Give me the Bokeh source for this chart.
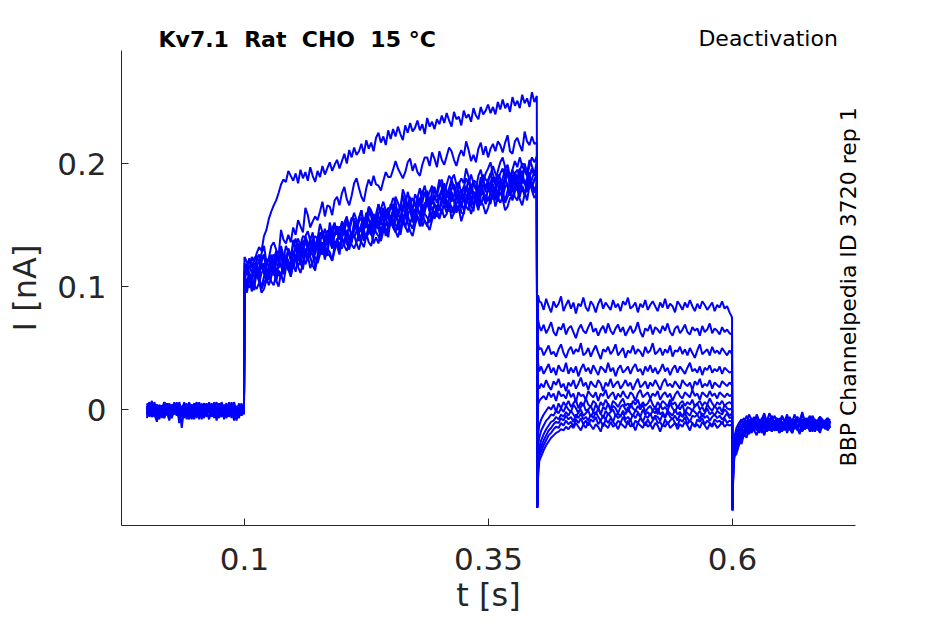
import numpy as np
from bokeh.plotting import figure
from bokeh.models import Range1d, FixedTicker, Label
from bokeh.embed import file_html
from bokeh.resources import INLINE

# ---------------- data ----------------
T_START = 0.0
T_ON = 0.1
T_DEACT = 0.4
T_OFF = 0.6
T_END = 0.7

X_TICKS = [0.1, 0.35, 0.6]
X_TICK_LABELS = ["0.1", "0.35", "0.6"]
Y_TICKS = [0, 0.1, 0.2]
Y_TICK_LABELS = ["0", "0.1", "0.2"]

TITLE = "Kv7.1 \u00a0Rat \u00a0CHO \u00a015 \u00b0C"
PROTOCOL = "Deactivation"
SOURCE = "BBP Channelpedia ID 3720 rep 1"

# currents in pA, one row per sweep, sampled every 2.5 ms
BASELINE_PA = [
    [2, -4, 5, -1, -7, 3, -2, 6, 0, -5, 4, -3, 1, -8, 3, -1, 5, -4, 2, -6, 0, 4, -2, -7, 3, 1, -5, 6, -3, 0, -6, 2, 5, -4, 1, -9, 3, -2, 4, -1],
    [-3, 4, -6, 1, 3, -5, 0, 6, -2, -8, 2, 5, -4, 1, -1, 4, -7, 2, -3, 5, -1, -6, 3, 0, -4, 6, -2, 1, -9, 3, 5, -3, 0, -5, 4, -1, 2, -6, 3, 1],
    [5, -1, -6, 2, 4, -3, 1, -7, 3, 0, -4, 6, -2, 2, -5, 4, -1, -8, 3, 1, -3, 5, -6, 0, 4, -2, -5, 3, 1, -4, 6, -1, -7, 2, 0, 4, -3, 1, -5, 2],
    [-5, 2, 4, -3, -10, 1, 3, -2, 5, -6, 0, 3, -4, 6, -1, -7, 2, -3, 4, 0, -5, 3, -8, 1, 5, -2, -4, 2, 6, -3, -1, 4, -6, 0, 3, -2, -9, 2, -1, 3],
    [0, 6, -3, 2, -5, 4, -1, -7, 3, 1, -4, 5, -2, 0, -6, 3, -8, 2, 4, -1, -3, 6, -5, 1, -2, 4, 0, -6, 3, -3, 5, -1, -4, 2, -7, 3, 1, -2, 5, -4],
    [3, -6, 1, 4, -2, -8, 2, 0, 5, -4, 1, -3, 6, -11, 2, -1, 4, -5, 0, 3, -7, 2, -2, 5, -3, 1, -6, 4, -1, -4, 3, 0, -5, 6, -2, 1, -8, 3, -1, 2],
    [-2, 1, 7, -4, 0, -6, 3, -1, 5, -3, -7, 2, 0, 4, -5, 1, -2, 6, -4, -1, 3, -8, 2, 5, -3, 0, -5, 4, -1, 2, -6, 3, 1, -4, 6, -2, -7, 1, 4, -3],
    [1, -3, -5, 4, -1, 2, -6, 3, 0, -9, 4, -2, 5, -3, 1, -5, 3, -1, -7, 2, 6, -4, 0, 3, -6, 1, -2, 5, -3, -1, 4, -8, 2, 0, -4, 3, -2, 5, -5, 1],
    [-7, 2, -1, 4, -4, 1, 3, -6, 0, 5, -3, 2, -5, 1, -2, 6, -4, 0, -8, 3, 1, -2, 4, -6, 2, -1, 5, -3, 0, -7, 3, 1, -4, 4, -2, 0, -5, 3, -1, 2],
    [3, -2, -5, 6, -1, 1, -7, 3, -3, 0, 4, -4, 2, -6, 1, 5, -2, -5, 3, 0, -3, 4, -6, 2, -1, -8, 3, 1, -4, 5, -2, 0, -6, 4, 1, -3, 2, -5, 3, -1],
    [-4, 5, -1, -6, 2, 0, -3, 6, -5, 1, 3, -4, -1, 4, -15, 2, -2, 5, -3, 1, -6, 3, 0, -4, 4, -2, 2, -7, 1, 5, -3, -1, 3, -6, 2, 0, -5, 4, -2, 1],
    [0, -5, 3, -2, 4, -6, 1, -3, 5, -1, -7, 2, -4, 3, 0, -5, 4, -2, 1, -8, 3, -1, 5, -4, 0, 2, -6, 3, -2, -4, 4, 1, -5, 2, -3, 6, -1, -7, 3, 0],
]

ACTIVATION_PA = [
    [124, 120, 110, 105, 113, 122, 126, 118, 111, 107, 117, 124, 119, 127, 120, 118, 114, 122, 129, 125,
     126, 132, 139, 133, 129, 126, 131, 139, 142, 132, 140, 133, 130, 139, 145, 146, 139, 150, 145, 138,
     153, 146, 142, 149, 156, 155, 148, 143, 151, 156, 152, 164, 157, 148, 153, 148, 159, 164, 154, 161,
     154, 161, 165, 159, 167, 165, 159, 167, 173, 160, 159, 169, 172, 166, 161, 178, 170, 167, 174, 168,
     175, 169, 181, 176, 171, 186, 180, 170, 175, 179, 172, 179, 187, 175, 184, 179, 172, 184, 187, 180,
     187, 192, 182, 177, 185, 192, 196, 188, 181, 177, 186, 193, 188, 196, 189, 185, 181, 189, 196, 192, 195],
    [110, 116, 123, 117, 113, 110, 115, 123, 126, 116, 123, 116, 113, 122, 128, 129, 122, 133, 128, 121,
     138, 131, 127, 134, 141, 140, 133, 128, 136, 141, 139, 151, 144, 135, 140, 136, 147, 152, 142, 149,
     142, 149, 153, 147, 155, 154, 148, 156, 162, 149, 148, 158, 161, 155, 150, 167, 159, 156, 163, 157,
     167, 161, 173, 168, 163, 179, 173, 163, 168, 172, 165, 172, 180, 168, 177, 173, 166, 178, 181, 174,
     182, 187, 177, 172, 180, 187, 191, 183, 176, 172, 181, 188, 183, 191, 184, 180, 176, 184, 191, 187,
     185, 191, 198, 192, 188, 183, 188, 196, 199, 189, 195, 188, 185, 194, 200, 199, 192, 203, 198, 191, 202],
    [110, 103, 99, 106, 113, 112, 105, 100, 108, 113, 110, 122, 115, 106, 111, 107, 118, 123, 113, 120,
     115, 122, 126, 120, 128, 127, 121, 129, 135, 122, 123, 133, 136, 130, 125, 143, 135, 132, 139, 133,
     140, 134, 146, 141, 136, 153, 147, 137, 142, 146, 139, 146, 154, 142, 151, 147, 140, 152, 155, 148,
     156, 161, 151, 146, 154, 162, 166, 158, 151, 147, 156, 163, 158, 166, 159, 156, 152, 160, 167, 163,
     162, 168, 175, 169, 165, 160, 165, 173, 176, 166, 172, 165, 162, 171, 177, 176, 169, 180, 175, 168,
     182, 175, 171, 178, 185, 182, 175, 170, 178, 183, 179, 191, 184, 175, 180, 174, 185, 190, 180, 187, 187],
    [110, 117, 121, 115, 123, 125, 119, 127, 133, 120, 123, 133, 136, 130, 125, 146, 138, 135, 142, 136,
     148, 142, 154, 149, 144, 164, 158, 148, 153, 157, 154, 161, 169, 157, 166, 165, 158, 170, 173, 166,
     176, 181, 171, 166, 174, 184, 188, 180, 173, 169, 180, 187, 182, 190, 183, 182, 178, 186, 193, 189,
     189, 195, 202, 196, 192, 188, 193, 201, 204, 194, 200, 193, 190, 199, 205, 205, 198, 209, 204, 197,
     210, 203, 199, 206, 213, 210, 203, 198, 206, 211, 206, 218, 211, 202, 207, 201, 212, 217, 207, 214,
     205, 212, 216, 210, 218, 215, 209, 217, 223, 210, 208, 218, 221, 215, 210, 226, 218, 215, 222, 216, 217],
    [101, 95, 107, 102, 97, 114, 108, 98, 103, 107, 101, 108, 116, 104, 113, 110, 103, 115, 118, 111,
     121, 126, 116, 111, 119, 128, 132, 124, 117, 113, 124, 131, 126, 134, 127, 125, 121, 129, 136, 132,
     131, 137, 144, 138, 134, 131, 136, 144, 147, 137, 143, 136, 133, 142, 148, 148, 141, 152, 147, 140,
     155, 148, 144, 151, 158, 156, 149, 144, 152, 157, 153, 165, 158, 149, 154, 149, 160, 165, 155, 162,
     155, 162, 166, 160, 168, 165, 159, 167, 173, 160, 159, 169, 172, 166, 161, 177, 169, 166, 173, 167,
     173, 167, 179, 174, 169, 184, 178, 168, 173, 177, 170, 177, 185, 173, 182, 177, 170, 182, 185, 178, 183],
    [119, 113, 106, 109, 117, 107, 112, 118, 115, 105, 113, 126, 120, 112, 118, 127, 119, 125, 121, 114,
     128, 122, 134, 129, 124, 141, 135, 125, 130, 134, 129, 136, 144, 132, 141, 138, 131, 143, 146, 139,
     140, 146, 153, 147, 143, 140, 145, 153, 156, 146, 152, 145, 142, 151, 157, 157, 150, 161, 156, 149,
     156, 162, 155, 158, 166, 155, 160, 166, 163, 153, 160, 173, 167, 159, 165, 173, 165, 171, 167, 160,
     174, 179, 169, 164, 172, 179, 183, 175, 168, 164, 173, 180, 175, 183, 176, 172, 168, 176, 183, 179,
     185, 178, 188, 183, 172, 182, 177, 186, 193, 181, 191, 186, 178, 183, 190, 197, 190, 183, 187, 194, 189],
    [98, 104, 111, 105, 101, 98, 103, 111, 114, 104, 111, 104, 101, 110, 116, 117, 110, 121, 116, 109,
     118, 124, 117, 120, 128, 118, 123, 129, 126, 116, 125, 138, 132, 124, 130, 139, 131, 137, 133, 126,
     140, 145, 135, 130, 138, 147, 151, 143, 136, 132, 141, 148, 143, 151, 144, 141, 137, 145, 152, 148,
     155, 148, 158, 153, 142, 153, 148, 157, 164, 152, 162, 157, 149, 154, 161, 169, 162, 155, 159, 166,
     165, 159, 171, 166, 161, 176, 170, 160, 165, 169, 162, 169, 177, 165, 174, 169, 162, 174, 177, 170,
     170, 176, 183, 177, 173, 168, 173, 181, 184, 174, 180, 173, 170, 179, 185, 184, 177, 188, 183, 176, 180],
    [112, 118, 114, 124, 120, 127, 132, 129, 141, 146, 155, 161, 166, 170, 176, 183, 187, 185, 194, 190,
     186, 192, 184, 195, 188, 193, 186, 197, 190, 185, 194, 189, 198, 191, 196, 201, 194, 199, 203, 196,
     202, 208, 200, 211, 205, 213, 207, 210, 216, 208, 219, 212, 217, 210, 221, 225, 217, 222, 215, 227,
     220, 228, 222, 230, 224, 219, 231, 225, 233, 226, 229, 235, 227, 232, 224, 237, 230, 234, 228, 236,
     232, 239, 233, 241, 235, 230, 242, 236, 238, 231, 243, 237, 240, 234, 245, 239, 236, 246, 240, 243,
     248, 241, 246, 240, 250, 244, 252, 245, 249, 242, 254, 247, 251, 245, 256, 249, 253, 246, 258, 250, 255],
    [106, 113, 117, 111, 119, 118, 112, 120, 126, 113, 113, 123, 126, 120, 115, 133, 125, 122, 129, 123,
     134, 139, 129, 124, 132, 141, 145, 137, 130, 126, 137, 144, 139, 147, 140, 138, 134, 142, 149, 145,
     152, 145, 155, 150, 139, 151, 146, 155, 162, 150, 160, 155, 147, 152, 159, 167, 160, 153, 157, 164,
     163, 167, 160, 152, 156, 165, 172, 164, 169, 162, 159, 163, 170, 178, 174, 172, 164, 169, 179, 174,
     171, 177, 184, 178, 174, 169, 174, 182, 185, 175, 181, 174, 171, 180, 186, 185, 178, 189, 184, 177,
     178, 185, 189, 183, 191, 188, 182, 190, 196, 183, 182, 192, 195, 189, 184, 200, 192, 189, 196, 190, 193],
    [106, 113, 110, 98, 105, 116, 107, 119, 111, 104, 118, 114, 109, 119, 125, 116, 121, 126, 114, 120,
     129, 122, 132, 127, 116, 128, 123, 132, 139, 127, 139, 134, 126, 131, 138, 147, 140, 133, 137, 144,
     143, 147, 140, 132, 136, 146, 153, 145, 150, 143, 140, 144, 151, 159, 155, 153, 145, 150, 160, 155,
     152, 158, 165, 159, 155, 151, 156, 164, 167, 157, 163, 156, 153, 162, 168, 168, 161, 172, 167, 160,
     164, 171, 176, 165, 172, 177, 171, 162, 165, 172, 172, 182, 179, 171, 166, 175, 179, 185, 178, 172,
     178, 185, 182, 170, 177, 186, 177, 189, 181, 174, 187, 183, 178, 188, 194, 183, 188, 193, 181, 187, 191],
    [112, 116, 109, 101, 105, 115, 122, 114, 119, 112, 110, 114, 121, 129, 125, 124, 116, 121, 131, 126,
     124, 131, 135, 129, 137, 136, 130, 138, 144, 131, 132, 142, 145, 139, 134, 152, 144, 141, 148, 142,
     145, 152, 157, 146, 153, 160, 154, 145, 148, 155, 155, 165, 162, 154, 149, 159, 163, 169, 162, 156,
     165, 172, 169, 157, 164, 174, 165, 177, 169, 162, 175, 171, 166, 176, 182, 172, 177, 182, 170, 176,
     187, 180, 176, 183, 190, 187, 180, 175, 183, 188, 184, 196, 189, 180, 185, 179, 190, 195, 185, 192,
     196, 201, 191, 186, 194, 201, 205, 197, 190, 186, 195, 202, 197, 205, 198, 194, 190, 198, 205, 201, 206],
    [95, 102, 107, 96, 103, 110, 104, 95, 98, 105, 106, 116, 113, 105, 100, 111, 115, 121, 114, 108,
     118, 112, 124, 119, 114, 131, 125, 115, 120, 124, 119, 126, 134, 122, 131, 128, 121, 133, 136, 129,
     140, 133, 129, 136, 143, 142, 135, 130, 138, 143, 139, 151, 144, 135, 140, 135, 146, 151, 141, 148,
     150, 155, 145, 140, 148, 156, 160, 152, 145, 141, 150, 157, 152, 160, 153, 150, 146, 154, 161, 157,
     157, 163, 156, 159, 167, 155, 160, 166, 163, 153, 160, 173, 167, 159, 165, 172, 164, 170, 166, 159,
     164, 171, 176, 165, 172, 177, 171, 162, 165, 172, 172, 182, 179, 171, 166, 175, 179, 185, 178, 172, 175],
]

# first three samples at 0, 0.8 and 2 ms after the step, then every 2.5 ms
DEACTIVATION_PA = [
    [-74, 93, 88,
     87, 81, 90, 84, 79, 88, 83, 86, 92, 80, 85, 89, 82, 87, 78, 86, 84, 91, 83, 80, 88, 85, 79, 86, 90, 82,
     87, 84, 81, 89, 83, 86, 80, 88, 85, 91, 82, 84, 87, 79, 86, 83, 89, 81, 85, 88, 84, 80, 87, 83, 90, 82,
     86, 84, 79, 88, 85, 81, 87, 83, 89, 84, 80, 86, 82, 88, 85, 81, 84, 87, 80, 85, 83, 88, 82, 84, 79, 75],
    [-76, 73, 68,
     64, 69, 62, 66, 71, 63, 60, 67, 65, 70, 61, 66, 68, 63, 58, 65, 69, 64, 62, 67, 71, 63, 66, 60, 65, 68,
     62, 70, 64, 61, 66, 69, 63, 67, 60, 64, 68, 62, 65, 71, 63, 59, 66, 64, 69, 61, 67, 65, 62, 68, 64, 70,
     63, 60, 66, 68, 62, 65, 69, 63, 61, 67, 64, 66, 60, 68, 63, 65, 70, 62, 66, 64, 61, 67, 63, 65, 62, 61],
    [-77, 53, 49,
     50, 44, 48, 52, 45, 47, 43, 49, 53, 46, 42, 48, 51, 45, 49, 47, 54, 44, 46, 50, 43, 48, 52, 46, 41, 49,
     47, 51, 45, 48, 53, 44, 47, 50, 42, 48, 46, 52, 45, 49, 47, 43, 51, 46, 48, 54, 45, 47, 50, 44, 49, 46,
     52, 43, 48, 47, 51, 45, 49, 44, 50, 46, 42, 48, 53, 45, 47, 49, 44, 51, 46, 48, 45, 50, 47, 44, 48, 45],
    [-78, 38, 31,
     35, 29, 33, 37, 30, 34, 28, 36, 32, 31, 38, 29, 34, 30, 35, 27, 33, 37, 31, 34, 29, 36, 32, 28, 35, 33,
     30, 38, 31, 34, 27, 33, 36, 30, 32, 35, 29, 34, 37, 31, 33, 28, 35, 31, 36, 30, 34, 29, 32, 37, 31, 34,
     28, 33, 36, 30, 35, 32, 29, 34, 38, 31, 33, 30, 35, 28, 34, 32, 36, 30, 33, 31, 35, 29, 34, 32, 30, 31],
    [-76, 20, 17,
     21, 18, 24, 19, 16, 23, 20, 25, 18, 21, 15, 22, 19, 24, 17, 21, 26, 19, 22, 16, 23, 20, 18, 24, 21, 15,
     22, 19, 25, 18, 21, 23, 17, 20, 24, 19, 22, 16, 21, 25, 18, 20, 23, 17, 22, 19, 24, 20, 16, 22, 25, 19,
     21, 18, 23, 20, 17, 24, 21, 19, 22, 16, 23, 20, 25, 18, 21, 19, 24, 17, 22, 20, 18, 23, 21, 19, 22, 20],
    [-79, 4, 7,
     9, 11, 8, 14, 10, 13, 7, 15, 11, 12, 9, 16, 10, 13, 6, 14, 11, 12, 8, 15, 12, 10, 14, 7, 13, 11,
     16, 9, 12, 14, 8, 13, 10, 15, 11, 9, 14, 12, 7, 13, 16, 10, 12, 14, 9, 13, 11, 15, 8, 12, 14, 10,
     13, 7, 12, 15, 11, 9, 14, 12, 10, 16, 11, 13, 8, 14, 12, 10, 15, 11, 13, 9, 14, 12, 10, 13, 11, 12],
    [-78, -20, -13,
     -8, -4, -1, 2, 0, 4, -2, 5, 1, 6, 3, 7, 2, 5, 8, 1, 6, 3, 9, 4, 2, 7, 5, 0, 6, 3,
     8, 4, 1, 7, 5, 2, 6, 9, 3, 5, 1, 7, 4, 8, 2, 6, 3, 5, 9, 4, 1, 6, 3, 7, 5, 2,
     8, 4, 6, 1, 5, 7, 3, 6, 4, 8, 2, 5, 7, 3, 6, 4, 9, 5, 2, 6, 4, 7, 3, 5, 6, 4],
    [-80, -30, -23,
     -17, -13, -9, -7, -4, -5, -1, -3, 1, -2, 3, 0, -2, 4, 1, -3, 2, 5, -1, 0, 3, -2, 4, 1, -4, 2,
     0, 5, -1, 3, 1, -3, 2, 4, 0, -2, 5, 1, -1, 3, 0, 4, -2, 1, 3, -1, 2, -4, 4, 0, 2, -1,
     5, 1, -2, 3, 0, 4, -3, 2, 1, -1, 3, 5, 0, 2, -2, 4, 1, -1, 3, 0, 2, -2, 4, 1, 0, 1],
    [-80, -40, -31,
     -25, -20, -16, -13, -10, -9, -6, -8, -4, -6, -2, -5, -1, -4, -7, -2, 0, -5, -3, -1, -6, -2, -4, 1, -3, -7,
     -1, -4, -2, 0, -5, -3, -6, -1, -4, 2, -3, -5, -1, -2, -6, 0, -4, -2, -5, -1, -3, 1, -4, -2, -6, -1,
     -3, -5, 0, -4, -2, -6, -1, -3, -5, 0, -2, -4, -1, -6, -3, 1, -4, -2, -5, -1, -3, -4, 0, -2, -5, -3],
    [-78, -45, -35,
     -30, -25, -21, -17, -15, -12, -10, -11, -7, -9, -5, -8, -6, -10, -4, -7, -3, -8, -6, -9, -4, -7, -2, -6, -9, -5,
     -8, -3, -6, -10, -4, -7, -5, -2, -8, -6, -9, -4, -7, -3, -6, -10, -5, -7, -3, -8, -5, -6, -9, -4, -7, -2,
     -6, -8, -5, -9, -4, -6, -3, -7, -10, -5, -6, -4, -8, -3, -7, -5, -9, -6, -4, -7, -5, -8, -6, -3, -7, -6],
    [-80, -50, -38,
     -34, -29, -25, -21, -19, -16, -14, -15, -11, -13, -9, -12, -10, -14, -8, -11, -7, -12, -9, -13, -8, -10, -6, -12, -9, -14,
     -8, -11, -7, -10, -13, -9, -11, -6, -10, -12, -8, -14, -9, -11, -7, -10, -13, -8, -12, -9, -6, -11, -10, -14, -8, -12,
     -9, -7, -11, -13, -8, -10, -6, -12, -9, -11, -14, -8, -10, -7, -12, -9, -11, -13, -8, -10, -9, -12, -7, -11, -9, -10],
    [-79, -55, -42,
     -38, -33, -29, -26, -23, -21, -19, -18, -16, -17, -14, -16, -13, -15, -11, -14, -17, -12, -15, -10, -13, -16, -12, -14, -18, -11,
     -13, -15, -10, -14, -12, -16, -11, -13, -15, -9, -14, -12, -17, -11, -13, -15, -10, -14, -12, -16, -11, -13, -18, -12, -14, -10,
     -15, -13, -11, -16, -12, -14, -10, -13, -17, -11, -14, -12, -15, -10, -13, -16, -12, -14, -11, -15, -13, -10, -14, -12, -13, -12],
]

TAIL_PA = [
    [-80, -30, -22, -15, -11, -8, -12, -5, -10, -7, -13, -4, -9, -12, -6, -10, -3, -8, -14, -7, -11, -5, -9,
     -13, -6, -10, -4, -11, -8, -15, -7, -9, -5, -12, -8, -10, -6, -13, -9, -7, -11],
    [-82, -35, -26, -19, -14, -10, -7, -12, -4, -9, -11, -6, -13, -8, -3, -10, -7, -12, -5, -9, -14, -6, -10,
     -4, -11, -8, -13, -6, -9, -2, -10, -7, -12, -5, -9, -11, -6, -8, -13, -7, -9],
    [-78, -38, -28, -23, -17, -13, -10, -15, -8, -12, -6, -11, -14, -7, -10, -16, -9, -5, -12, -8, -13, -10, -15,
     -6, -11, -9, -14, -7, -12, -4, -10, -13, -8, -11, -15, -9, -6, -12, -10, -14, -9],
    [-81, -40, -30, -26, -20, -16, -12, -9, -14, -7, -11, -15, -8, -12, -6, -10, -13, -17, -9, -11, -7, -14, -10,
     -12, -16, -8, -11, -6, -13, -10, -15, -9, -12, -7, -14, -11, -8, -13, -10, -12, -9],
    [-80, -44, -32, -29, -22, -17, -13, -18, -11, -15, -9, -13, -16, -10, -14, -8, -12, -15, -11, -7, -13, -17, -12,
     -9, -14, -11, -16, -8, -12, -15, -10, -13, -7, -11, -16, -12, -9, -14, -11, -13, -10],
    [-82, -46, -34, -31, -24, -19, -21, -14, -17, -12, -16, -10, -14, -18, -11, -15, -9, -13, -16, -12, -19, -10, -14,
     -11, -17, -13, -8, -15, -12, -18, -10, -14, -16, -9, -13, -11, -17, -12, -15, -10, -13],
    [-79, -42, -31, -28, -21, -23, -16, -19, -13, -17, -11, -15, -19, -12, -16, -10, -14, -18, -13, -9, -15, -12, -17,
     -10, -14, -19, -11, -16, -13, -8, -15, -12, -18, -14, -10, -16, -12, -15, -11, -17, -13],
    [-81, -48, -36, -34, -26, -20, -22, -15, -18, -13, -17, -14, -11, -16, -20, -12, -15, -10, -14, -17, -13, -16, -11,
     -19, -12, -15, -9, -14, -18, -11, -16, -13, -10, -15, -12, -17, -14, -11, -16, -13, -15],
    [-80, -45, -33, -30, -27, -21, -17, -20, -14, -18, -12, -16, -13, -19, -11, -15, -17, -10, -14, -12, -18, -13, -16,
     -11, -15, -19, -12, -14, -10, -17, -13, -15, -11, -18, -14, -12, -16, -10, -15, -13, -14],
    [-82, -50, -38, -36, -29, -23, -19, -16, -20, -14, -17, -21, -13, -16, -12, -18, -14, -11, -17, -15, -19, -12, -14,
     -16, -10, -18, -13, -15, -20, -12, -16, -14, -11, -17, -13, -15, -19, -12, -14, -16, -13],
    [-79, -43, -30, -27, -19, -15, -18, -12, -16, -10, -14, -17, -11, -13, -9, -15, -12, -18, -10, -13, -16, -11, -14,
     -8, -12, -15, -10, -17, -11, -14, -9, -13, -16, -12, -10, -15, -11, -14, -13, -9, -12],
    [-80, -47, -35, -32, -25, -28, -20, -23, -16, -19, -15, -13, -18, -14, -21, -12, -16, -13, -17, -15, -11, -18, -14,
     -16, -12, -19, -13, -15, -10, -17, -14, -12, -16, -13, -18, -11, -15, -14, -12, -16, -14],
]

FAST_OFFSETS = [0.0, 0.0008, 0.002]   # sample times right after a step [s]
SETTLED_OFFSET = 0.004

# ---------------- figure ----------------
FONT = "DejaVu Sans"
INK = "#262626"

p = figure(frame_width=734, frame_height=475, output_backend="svg", toolbar_location=None,
           x_range=Range1d(-0.026, 0.726), y_range=Range1d(-0.0943, 0.2919),
           min_border_left=121, min_border_right=74, min_border_top=39, min_border_bottom=90)
p.outline_line_color = None
p.xgrid.visible = False
p.ygrid.visible = False


def seg_uniform(start, end, n):
    return np.linspace(start, end, n)


def seg_step(start, end, n):
    fast = [start + o for o in FAST_OFFSETS]
    rest = np.linspace(start + SETTLED_OFFSET, end, n - len(fast))
    return np.concatenate([fast, rest])


for b, a, d, t in zip(BASELINE_PA, ACTIVATION_PA, DEACTIVATION_PA, TAIL_PA):
    tt = np.concatenate([
        seg_uniform(T_START, T_ON - 0.0005, len(b)),
        seg_uniform(T_ON, T_DEACT - 0.0005, len(a)),
        seg_step(T_DEACT, T_OFF - 0.0005, len(d)),
        seg_step(T_OFF, T_END, len(t)),
    ])
    ii = np.array(b + a + d + t, dtype=float) / 1000.0   # pA -> nA
    p.line(tt, ii, line_color="#0000ff", line_width=2)

for ax in (p.xaxis[0], p.yaxis[0]):
    ax.axis_line_color = INK
    ax.axis_line_width = 1
    ax.major_tick_line_color = INK
    ax.major_tick_in = 7
    ax.major_tick_out = 0
    ax.minor_tick_line_color = None
    ax.major_label_text_font = FONT
    ax.major_label_text_font_size = "31px"
    ax.major_label_text_color = INK
    ax.major_label_text_line_height = 1.0
    ax.axis_label_text_font = FONT
    ax.axis_label_text_font_size = "32px"
    ax.axis_label_text_font_style = "normal"
    ax.axis_label_text_color = INK
    ax.axis_label_text_line_height = 1.0

p.xaxis.ticker = FixedTicker(ticks=X_TICKS)
p.xaxis.major_label_overrides = dict(zip(X_TICKS, X_TICK_LABELS))
p.yaxis.ticker = FixedTicker(ticks=Y_TICKS)
p.yaxis.major_label_overrides = dict(zip(Y_TICKS, Y_TICK_LABELS))
p.xaxis.axis_label = "t [s]"
p.yaxis.axis_label = "I [nA]"
p.xaxis.major_label_standoff = 22
p.xaxis.axis_label_standoff = 3
p.yaxis.major_label_standoff = 15
p.yaxis.axis_label_standoff = 10

# texts placed in the side panels so they are not clipped by the frame
p.add_layout(Label(x=0.0119, y=0.3006, text=TITLE, text_font=FONT, text_font_size="22px",
                   text_font_style="bold", text_color="black", text_align="left",
                   text_baseline="alphabetic"), "above")
p.add_layout(Label(x=0.7079, y=0.3016, text=PROTOCOL, text_font=FONT, text_font_size="22px",
                   text_color="black", text_align="right", text_baseline="alphabetic"), "above")
p.add_layout(Label(x=0.7189, y=-0.0463, text=SOURCE, text_font=FONT, text_font_size="22px",
                   text_color="black", text_align="left", text_baseline="alphabetic",
                   angle=np.pi / 2), "right")

open("out.html", "w").write(file_html(p, INLINE))
